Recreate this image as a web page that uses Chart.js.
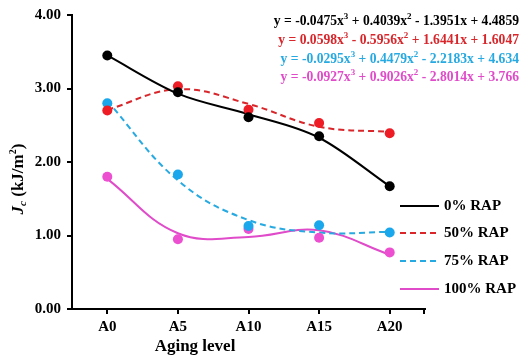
<!DOCTYPE html>
<html>
<head>
<meta charset="utf-8">
<script src="https://cdn.jsdelivr.net/npm/chart.js@4"></script>
<style>
  html, body { margin: 0; padding: 0; background: #fff; }
  #wrap { width: 523px; height: 361px; position: relative; }
</style>
</head>
<body>
<div id="wrap"><canvas id="jcChart"></canvas></div>
<script>
// 老化レベル
const categories = ["A0", "A5", "A10", "A15", "A20"];

// 測定値 (Jc, kJ/m2)
const rap0 = [3.45, 2.95, 2.61, 2.35, 1.67];
const rap50 = [2.70, 3.03, 2.71, 2.53, 2.39];
const rap75 = [2.80, 1.83, 1.13, 1.14, 1.04];
const rap100 = [1.80, 0.95, 1.09, 0.97, 0.77];

// 近似曲線 (各カテゴリ位置での読み取り値)
const fit0 = [3.45, 2.93, 2.65, 2.33, 1.67];
const fit50 = [2.71, 2.99, 2.79, 2.48, 2.41];
const fit75 = [2.83, 1.75, 1.21, 1.04, 1.05];
const fit100 = [1.77, 1.03, 0.98, 1.07, 0.74];

const seriesNames = ["0% RAP", "50% RAP", "75% RAP", "100% RAP"];
const yTicks = [0, 1, 2, 3, 4];

// 近似式 ("^" の後ろの1文字を上付きにする)
const equations = [
  "y = -0.0475x^3 + 0.4039x^2 - 1.3951x + 4.4859",
  "y = 0.0598x^3 - 0.5956x^2 + 1.6441x + 1.6047",
  "y = -0.0295x^3 + 0.4479x^2 - 2.2183x + 4.634",
  "y = -0.0927x^3 + 0.9026x^2 - 2.8014x + 3.766"
];

const lineColors = ["#000000", "#d8262b", "#27a9e1", "#e04bc9"];
const dotColors = ["#000000", "#ee1c25", "#1aa7ec", "#ec4fd0"];
const dashes = [[], [6, 4], [6, 4], []];
const curveModes = ["monotone", "default", "default", "default"];

const SERIF = "'Liberation Serif', 'Times New Roman', serif";

const measured = [rap0, rap50, rap75, rap100];
const fitted = [fit0, fit50, fit75, fit100];

const datasets = [];
fitted.forEach(function (vals, i) {
  datasets.push({
    label: seriesNames[i] + " fit",
    data: vals,
    borderColor: lineColors[i],
    borderWidth: 2,
    borderDash: dashes[i],
    pointRadius: 0,
    tension: 0.4,
    cubicInterpolationMode: curveModes[i],
    fill: false,
    order: 2
  });
});
measured.forEach(function (vals, i) {
  datasets.push({
    label: seriesNames[i],
    data: vals,
    showLine: false,
    pointRadius: 5,
    pointBackgroundColor: dotColors[i],
    pointBorderColor: dotColors[i],
    pointBorderWidth: 0,
    order: 1
  });
});

function drawRich(ctx, text, rightX, y, size, color) {
  // 上付き文字を含む文字列を右揃えで描く
  const parts = [];
  let i = 0;
  while (i < text.length) {
    if (text[i] === "^") {
      parts.push({ t: text[i + 1], sup: true });
      i += 2;
    } else {
      let j = i;
      while (j < text.length && text[j] !== "^") j++;
      parts.push({ t: text.slice(i, j), sup: false });
      i = j;
    }
  }
  const bigFont = "bold " + size + "px " + SERIF;
  const smallFont = "bold " + Math.round(size * 0.65) + "px " + SERIF;
  let total = 0;
  parts.forEach(function (p) {
    ctx.font = p.sup ? smallFont : bigFont;
    p.w = ctx.measureText(p.t).width;
    total += p.w;
  });
  let x = rightX - total;
  ctx.fillStyle = color;
  ctx.textAlign = "left";
  ctx.textBaseline = "middle";
  parts.forEach(function (p) {
    ctx.font = p.sup ? smallFont : bigFont;
    ctx.fillText(p.t, x, p.sup ? y - size * 0.3 : y);
    x += p.w;
  });
}

const overlay = {
  id: "overlay",
  afterDraw(chart) {
    const ctx = chart.ctx;
    ctx.save();

    // 近似式
    const eqY = [21, 40, 59, 77];
    equations.forEach(function (eq, i) {
      drawRich(ctx, eq, 519, eqY[i], 13.6, lineColors[i]);
    });

    // 凡例
    const legY = [206, 233, 261, 289];
    seriesNames.forEach(function (name, i) {
      ctx.beginPath();
      ctx.strokeStyle = lineColors[i];
      ctx.lineWidth = 2;
      ctx.setLineDash(dashes[i]);
      ctx.moveTo(400, legY[i]);
      ctx.lineTo(439, legY[i]);
      ctx.stroke();
      ctx.setLineDash([]);
      ctx.fillStyle = "#000";
      ctx.font = "bold 15px " + SERIF;
      ctx.textAlign = "left";
      ctx.textBaseline = "middle";
      ctx.fillText(name, 444, legY[i]);
    });

    // x軸の右端の目盛り
    const xs = chart.scales.x;
    ctx.beginPath();
    ctx.strokeStyle = "#000";
    ctx.lineWidth = 2;
    ctx.moveTo(xs.right - 1, xs.top);
    ctx.lineTo(xs.right - 1, xs.top + 5);
    ctx.stroke();

    // x軸タイトル
    ctx.fillStyle = "#000";
    ctx.font = "bold 17px " + SERIF;
    ctx.textAlign = "center";
    ctx.textBaseline = "middle";
    ctx.fillText("Aging level", 195, 347);

    // y軸タイトル Jc (kJ/m2)
    ctx.translate(19, 179);
    ctx.rotate(-Math.PI / 2);
    const f1 = "italic bold 17px " + SERIF;
    const f2 = "italic bold 11px " + SERIF;
    const f3 = "bold 17px " + SERIF;
    const f4 = "bold 10px " + SERIF;
    const segs = [
      { t: "J", f: f1, dy: 0 },
      { t: "c", f: f2, dy: 4 },
      { t: " (kJ/m", f: f3, dy: 0 },
      { t: "2", f: f4, dy: -6 },
      { t: ")", f: f3, dy: 0 }
    ];
    let w = 0;
    segs.forEach(function (s) { ctx.font = s.f; s.w = ctx.measureText(s.t).width; w += s.w; });
    let x = -w / 2;
    ctx.textAlign = "left";
    segs.forEach(function (s) {
      ctx.font = s.f;
      ctx.fillText(s.t, x, s.dy);
      x += s.w;
    });
    ctx.restore();
  }
};

window.addEventListener("load", function () {
  const el = document.getElementById("jcChart");
  new Chart(el.getContext("2d"), {
    type: "line",
    data: { labels: categories, datasets: datasets },
    plugins: [overlay],
    options: {
      responsive: true,
      maintainAspectRatio: false,
      animation: false,
      layout: { padding: { top: 14, right: 98, left: 0, bottom: 0 } },
      plugins: { legend: { display: false }, tooltip: { enabled: false } },
      scales: {
        x: {
          offset: true,
          afterFit(scale) { scale.height = 52; },
          grid: { display: true, drawOnChartArea: false, offset: false, tickLength: 5, color: "#000", lineWidth: 2 },
          border: { color: "#000", width: 2 },
          ticks: { color: "#000", font: { family: SERIF, size: 15, weight: "bold" }, padding: 4 }
        },
        y: {
          min: 0,
          max: 4,
          afterFit(scale) { scale.width = 72; },
          afterBuildTicks(scale) { scale.ticks = yTicks.map(function (v) { return { value: v }; }); },
          grid: { display: true, drawOnChartArea: false, tickLength: 5, color: "#000", lineWidth: 2 },
          border: { color: "#000", width: 2 },
          ticks: {
            color: "#000",
            font: { family: SERIF, size: 15, weight: "bold" },
            padding: 6,
            callback: function (v) { return Number(v).toFixed(2); }
          }
        }
      }
    }
  });
});
</script>
</body>
</html>
